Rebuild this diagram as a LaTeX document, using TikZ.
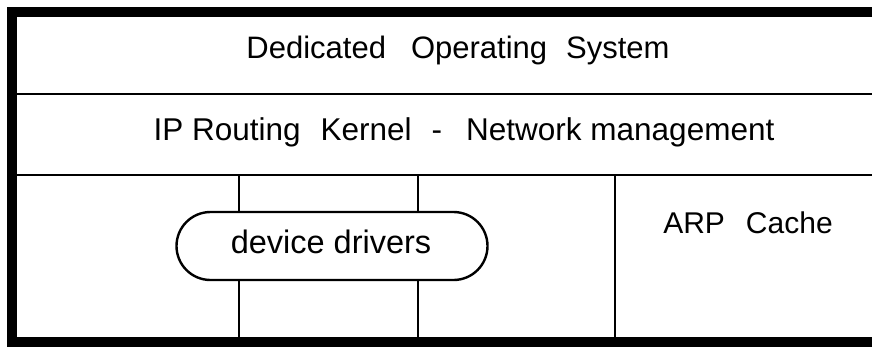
\documentclass[tikz,border=0pt]{standalone}
\usepackage{fontspec}
\setmainfont{Liberation Sans}
\usetikzlibrary{shapes.misc}
\begin{document}
\begin{tikzpicture}[x=1pt,y=-1pt,
  frame/.style={line width=9.5pt,line join=miter,line cap=rect},
  thin/.style={line width=2.4pt},
  lbl/.style={anchor=base,inner sep=0pt,font=\fontsize{30}{36}\selectfont},
  pill/.style={rounded rectangle,draw,line width=2.4pt,minimum width=311pt,minimum height=68pt,inner sep=0pt}]
\useasboundingbox (0,0) rectangle (872,351);
% outer frame (open on the right)
\coordinate (tr) at (872,12);
\coordinate (tl) at (12,12);
\coordinate (bl) at (12,342);
\coordinate (br) at (872,342);
\draw[frame] (tr) -- (tl) -- (bl) -- (br);
% horizontal dividers
\coordinate (h1l) at (12,94);  \coordinate (h1r) at (872,94);
\coordinate (h2l) at (12,175); \coordinate (h2r) at (872,175);
\draw[thin] (h1l) -- (h1r);
\draw[thin] (h2l) -- (h2r);
% texts
\node[lbl,font=\fontsize{31}{36}\selectfont] (dos) at (458,58) {Dedicated\hspace{25pt}Operating\hspace{19pt}System};
\node[lbl,font=\fontsize{31.5}{36}\selectfont] (ipr) at (464,140) {IP Routing\hspace{20pt}Kernel\hspace{20pt}-\hspace{24pt}Network management};
\node[lbl] (arp) at (748,233) {ARP\hspace{21pt}Cache};
% device drivers pill
\node[pill] (dd) at (332,246) {};
\node[lbl,font=\fontsize{32.5}{36}\selectfont] (ddt) at (331,253) {device drivers};
% vertical lines
\coordinate (v1t) at (239,175); \coordinate (v1b) at (239,342);
\coordinate (v2t) at (418,175); \coordinate (v2b) at (418,342);
\coordinate (v3t) at (615,175); \coordinate (v3b) at (615,342);
\draw[thin] (v1t) -- (v1t |- dd.north);
\draw[thin] (v1b) -- (v1b |- dd.south);
\draw[thin] (v2t) -- (v2t |- dd.north);
\draw[thin] (v2b) -- (v2b |- dd.south);
\draw[thin] (v3t) -- (v3b);
\end{tikzpicture}
\end{document}
